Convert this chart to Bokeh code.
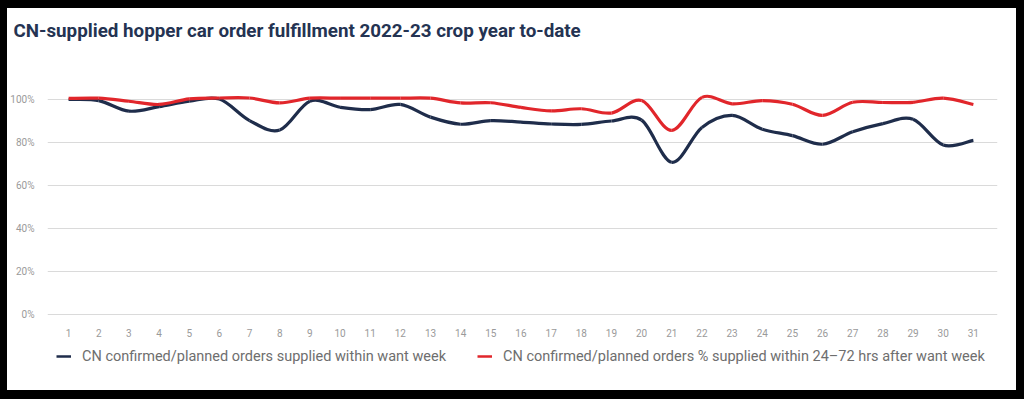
from bokeh.plotting import figure
from bokeh.models import (ColumnDataSource, FixedTicker, PrintfTickFormatter, Legend,
                          LegendItem, Range1d, Title)
from bokeh.embed import file_html
from bokeh.resources import INLINE

weeks = list(range(1, 32))
within_week = [100, 99.5, 94.6, 96.7, 99.2, 100.2, 90.2, 85.8, 99.2, 96.4,
               95.3, 97.7, 91.8, 88.5, 90.2, 89.5, 88.6, 88.4, 90.0, 90.4,
               70.8, 87.0, 92.6, 86.2, 83.2, 79.2, 85.0, 88.8, 90.8, 78.8, 81.0]
within_72h = [100.5, 100.6, 99.2, 97.7, 100.3, 100.7, 100.7, 98.4, 100.6, 100.6,
              100.6, 100.6, 100.6, 98.4, 98.5, 96.3, 94.7, 95.7, 93.7, 99.5,
              85.6, 101.0, 98.0, 99.5, 97.8, 92.6, 98.7, 98.6, 98.7, 100.6, 97.7]
y_ticks = [0, 20, 40, 60, 80, 100]
series_names = ["CN confirmed/planned orders supplied within want week",
                "CN confirmed/planned orders % supplied within 24\u201372 hrs after want week"]
colors = ["#1f2d4b", "#e1262b"]
title_text = "CN-supplied hopper car order fulfillment 2022-23 crop year to-date"


def bezier_source(xs, ys):
    n = len(xs)
    d = dict(x0=[], y0=[], x1=[], y1=[], cx0=[], cy0=[], cx1=[], cy1=[])
    for i in range(n - 1):
        xm, ym = (xs[i - 1], ys[i - 1]) if i > 0 else (xs[i], ys[i])
        xp, yp = (xs[i + 2], ys[i + 2]) if i + 2 < n else (xs[i + 1], ys[i + 1])
        d["x0"].append(xs[i]); d["y0"].append(ys[i])
        d["x1"].append(xs[i + 1]); d["y1"].append(ys[i + 1])
        d["cx0"].append(xs[i] + (xs[i + 1] - xm) / 6)
        d["cy0"].append(ys[i] + (ys[i + 1] - ym) / 6)
        d["cx1"].append(xs[i + 1] - (xp - xs[i]) / 6)
        d["cy1"].append(ys[i + 1] - (yp - ys[i]) / 6)
    return ColumnDataSource(d)


p = figure(width=1009, height=382, output_backend="svg", toolbar_location=None,
           x_range=Range1d(0.3, 31.8), y_range=Range1d(-24.19, 109.77),
           min_border_left=39, min_border_right=19, min_border_top=70,
           min_border_bottom=24, background_fill_color="white",
           border_fill_color="white")
p.outline_line_color = None
p.styles = {"margin-left": "7px", "margin-top": "8px",
            "box-shadow": "0 0 0 14px #000000"}

# spacer between frame and title
p.add_layout(Title(text=" ", text_font_size="2px", standoff=33), "above")

p.title.text = title_text
p.title.text_font = "Roboto"
p.title.text_font_style = "bold"
p.title.text_font_size = "18.8px"
p.title.text_color = "#243352"
p.title.offset = -34
p.title.standoff = 0

items = []
for ys, name, col in zip([within_week, within_72h], series_names, colors):
    src = bezier_source(weeks, ys)
    p.bezier(x0="x0", y0="y0", x1="x1", y1="y1", cx0="cx0", cy0="cy0",
             cx1="cx1", cy1="cy1", source=src, line_color=col, line_width=3.2)
    r = p.line(x=weeks[:1], y=ys[:1], line_color=col, line_width=2.5)
    items.append(LegendItem(label=name, renderers=[r]))

p.xgrid.visible = False
p.ygrid.grid_line_color = "#dadada"
p.ygrid.grid_line_width = 1.2

p.yaxis.ticker = FixedTicker(ticks=y_ticks)
p.yaxis.formatter = PrintfTickFormatter(format="%d%%")
p.xaxis.ticker = FixedTicker(ticks=weeks)
p.xaxis.fixed_location = 0
for ax in (p.xaxis, p.yaxis):
    ax.axis_line_color = None
    ax.major_tick_line_color = None
    ax.minor_tick_line_color = None
    ax.major_label_text_font = "Roboto"
    ax.major_label_text_font_size = "10px"
    ax.major_label_text_color = "#9a9a9a"
p.yaxis.major_label_standoff = 7
p.xaxis.major_label_standoff = 9

legend = Legend(items=items, orientation="horizontal", location=(9, 0),
                label_text_font="Roboto", label_text_font_size="14.5px",
                label_text_color="#6e6e6e", glyph_width=15, label_standoff=11,
                spacing=31, padding=0, margin=0, border_line_color=None,
                background_fill_alpha=0)
p.add_layout(legend, "center")

open("out.html", "w").write(file_html(p, INLINE))
